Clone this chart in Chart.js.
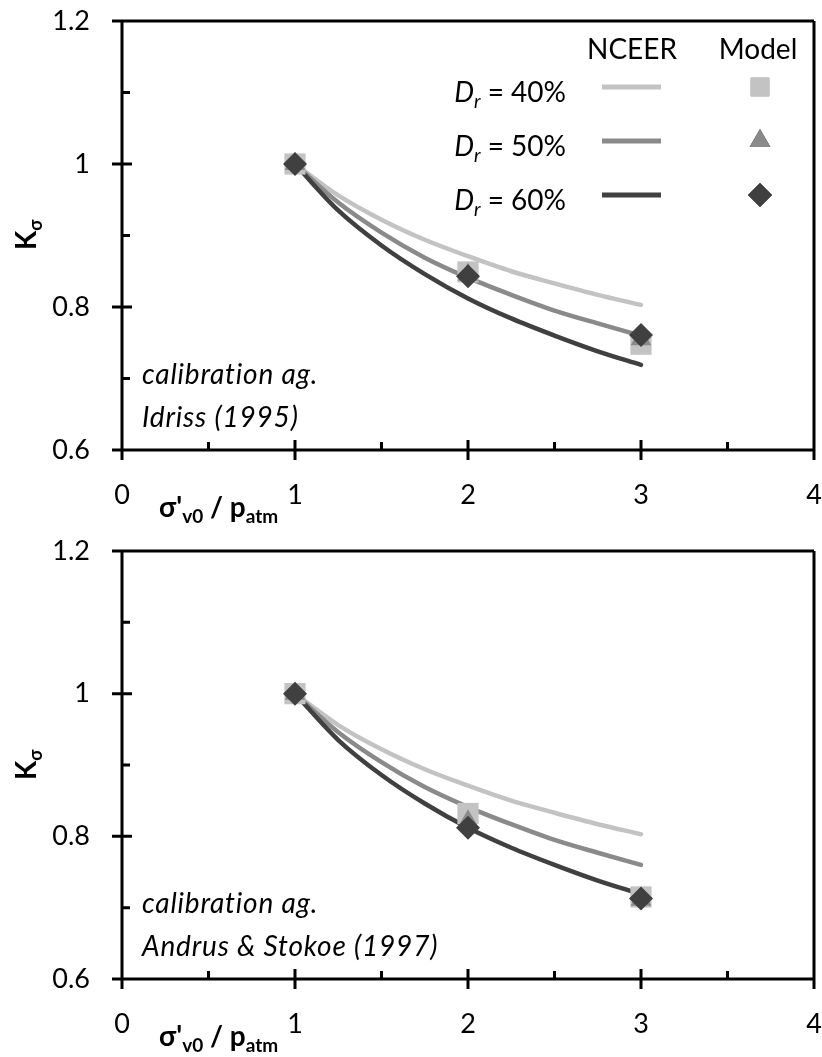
<!DOCTYPE html>
<html>
<head>
<meta charset="utf-8">
<script src="https://cdn.jsdelivr.net/npm/chart.js@4.4.0/dist/chart.umd.min.js"></script>
<style>
  body { margin: 0; background: #fff; }
  canvas { display: block; }
</style>
</head>
<body>
<canvas id="idriss" width="822" height="530"></canvas>
<canvas id="andrus" width="822" height="527"></canvas>
<script>
// sigma'v0 / patm sampled along the NCEER curves
const stressRatio = [1, 1.25, 1.5, 1.75, 2, 2.25, 2.5, 2.75, 3];
const nceer40 = [1, 0.956, 0.922, 0.894, 0.871, 0.850, 0.833, 0.817, 0.803];
const nceer50 = [1, 0.946, 0.904, 0.869, 0.841, 0.817, 0.795, 0.777, 0.760];
const nceer60 = [1, 0.935, 0.886, 0.846, 0.812, 0.784, 0.760, 0.738, 0.719];

// model results
const modelRatio = [1, 2, 3];
const idriss40 = [1, 0.849, 0.748];
const idriss50 = [1, 0.845, 0.755];
const idriss60 = [1, 0.843, 0.761];
const andrus40 = [1, 0.832, 0.715];
const andrus50 = [1, 0.821, 0.711];
const andrus60 = [1, 0.812, 0.713];

const densities = ['40%', '50%', '60%'];
const xTickLabels = ['0', '1', '2', '3', '4'];
const yTickLabels = ['0.6', '0.8', '1', '1.2'];

const light = '#c3c3c3', mid = '#8a8a8a', dark = '#404040';
const FONT = 'Lato';

const toPts = (xs, ys) => xs.map((x, i) => ({x: x, y: ys[i]}));

const markerStyles = [
    {pointStyle: 'rect', radius: 15, color: light},
    {pointStyle: 'triangle', radius: 12, color: mid},
    {pointStyle: 'rectRot', radius: 12, color: dark}
];

// box, tick marks and text that sit around the plot
const decorations = {
    id: 'decorations',
    afterDraw(chart, args, opts) {
        const {ctx, chartArea: a, scales: {x, y}} = chart;
        ctx.save();
        ctx.strokeStyle = '#000';
        ctx.lineWidth = 3;
        ctx.lineCap = 'butt';
        ctx.beginPath();
        ctx.moveTo(a.left, a.top); ctx.lineTo(a.right, a.top);
        ctx.moveTo(a.right, a.top); ctx.lineTo(a.right, a.bottom);
        ctx.moveTo(a.left, a.top); ctx.lineTo(a.left, a.bottom);
        ctx.moveTo(a.left, a.bottom); ctx.lineTo(a.right, a.bottom);
        // major ticks cross the axis, minor ticks point inward
        for (const t of y.ticks) {
            const py = y.getPixelForValue(t.value);
            ctx.moveTo(a.left - 10, py); ctx.lineTo(a.left + 10, py);
            if (t.value < 1.19) {
                const pm = y.getPixelForValue(t.value + 0.1);
                ctx.moveTo(a.left, pm); ctx.lineTo(a.left + 8, pm);
            }
        }
        for (const t of x.ticks) {
            const px = x.getPixelForValue(t.value);
            ctx.moveTo(px, a.bottom - 10); ctx.lineTo(px, a.bottom + 10);
            if (t.value < 3.99) {
                const pm = x.getPixelForValue(t.value + 0.5);
                ctx.moveTo(pm, a.bottom); ctx.lineTo(pm, a.bottom - 8);
            }
        }
        ctx.stroke();

        ctx.fillStyle = '#000';
        ctx.textBaseline = 'alphabetic';
        ctx.textAlign = 'left';

        // y title K_sigma
        ctx.save();
        ctx.translate(36, a.top + 229);
        ctx.rotate(-Math.PI / 2);
        ctx.font = 'bold 28px ' + FONT;
        ctx.fillText('K', 0, 0);
        const kw = ctx.measureText('K').width;
        ctx.font = 'bold 18px ' + FONT;
        ctx.fillText('σ', kw, 6);
        ctx.restore();

        // x title sigma'_v0 / p_atm
        let tx = a.left + 37;
        const ty = a.bottom + 67;
        const parts = [['σ\'', 28, 0], ['v0', 19, 6], [' / p', 28, 0], ['atm', 19, 6]];
        for (const [s, size, dy] of parts) {
            ctx.font = 'bold ' + size + 'px ' + FONT;
            ctx.fillText(s, tx, ty + dy);
            tx += ctx.measureText(s).width;
        }

        // calibration note
        ctx.font = 'italic 28px ' + FONT;
        ctx.letterSpacing = '0.8px';
        ctx.fillText(opts.note[0], a.left + 20, a.bottom - 66);
        ctx.fillText(opts.note[1], a.left + 20, a.bottom - 23);
        ctx.letterSpacing = '0px';

        if (opts.legend) {
            ctx.font = '28px ' + FONT;
            ctx.textAlign = 'center';
            ctx.fillText('NCEER', 632, a.top + 38);
            ctx.fillText('Model', 758, a.top + 38);
            const lineColors = [light, mid, dark];
            const rows = [71, 125, 179];
            densities.forEach((d, i) => {
                const cy = a.top + rows[i];
                // "D_r = 40%" right aligned
                ctx.textAlign = 'left';
                ctx.font = '28px ' + FONT;
                const rest = ' = ' + d;
                const wRest = ctx.measureText(rest).width;
                ctx.font = 'italic 19px ' + FONT;
                const wr = ctx.measureText('r').width;
                ctx.font = 'italic 28px ' + FONT;
                const wD = ctx.measureText('D').width;
                let sx = 566 - wRest - wr - wD;
                ctx.fillText('D', sx, cy + 10);
                ctx.font = 'italic 19px ' + FONT;
                ctx.fillText('r', sx + wD, cy + 16);
                ctx.font = '28px ' + FONT;
                ctx.fillText(rest, sx + wD + wr, cy + 10);

                ctx.strokeStyle = lineColors[i];
                ctx.lineWidth = 5;
                ctx.beginPath();
                ctx.moveTo(602, cy - 5); ctx.lineTo(661, cy - 5);
                ctx.stroke();

                const m = markerStyles[i];
                Chart.helpers.drawPoint(ctx, {
                    pointStyle: m.pointStyle, radius: i === 0 ? 13 : 12, rotation: 0, borderWidth: 0
                }, 760, cy - 5);
                ctx.fillStyle = m.color;
                ctx.fill();
                ctx.fillStyle = '#000';
            });
        }
        ctx.restore();
    }
};

function makeChart(id, model, note, legend, xHeight) {
    const curve = (ys, color, order) => ({
        data: toPts(stressRatio, ys),
        showLine: true,
        borderColor: color,
        borderWidth: 4.5,
        borderCapStyle: 'round',
        cubicInterpolationMode: 'monotone',
        pointRadius: 0,
        order: order
    });
    const points = (ys, m, order) => ({
        data: toPts(modelRatio, ys),
        showLine: false,
        pointStyle: m.pointStyle,
        pointRadius: m.radius,
        pointBackgroundColor: m.color,
        pointBorderWidth: 0,
        order: order
    });
    return new Chart(document.getElementById(id), {
        type: 'scatter',
        data: {
            datasets: [
                curve(nceer40, light, 5),
                curve(nceer50, mid, 4),
                curve(nceer60, dark, 3),
                points(model[0], markerStyles[0], 2),
                points(model[1], markerStyles[1], 1),
                points(model[2], markerStyles[2], 0)
            ]
        },
        options: {
            responsive: false,
            animation: false,
            events: [],
            layout: { autoPadding: false, padding: { top: 21, right: 8, left: 0, bottom: 0 } },
            scales: {
                x: {
                    type: 'linear', min: 0, max: 4,
                    afterFit: s => { s.height = xHeight; },
                    afterBuildTicks: s => { s.ticks = xTickLabels.map(v => ({value: +v})); },
                    grid: { display: false, drawTicks: true, tickLength: 29 },
                    border: { display: false },
                    ticks: {
                        padding: 0,
                        color: '#000',
                        font: { family: FONT, size: 27 },
                        callback: (v, i) => xTickLabels[i]
                    }
                },
                y: {
                    type: 'linear', min: 0.6, max: 1.2,
                    afterFit: s => { s.width = 122; },
                    afterBuildTicks: s => { s.ticks = yTickLabels.map(v => ({value: +v})); },
                    grid: { display: false, drawTicks: true, tickLength: 32 },
                    border: { display: false },
                    ticks: {
                        padding: 0,
                        color: '#000',
                        font: { family: FONT, size: 27 },
                        callback: (v, i) => yTickLabels[i]
                    }
                }
            },
            plugins: {
                legend: { display: false },
                tooltip: { enabled: false },
                decorations: { note: note, legend: legend }
            }
        },
        plugins: [decorations]
    });
}

makeChart('idriss', [idriss40, idriss50, idriss60], ['calibration ag.', 'Idriss (1995)'], true, 80);
makeChart('andrus', [andrus40, andrus50, andrus60], ['calibration ag.', 'Andrus & Stokoe (1997)'], false, 78);
</script>
</body>
</html>
